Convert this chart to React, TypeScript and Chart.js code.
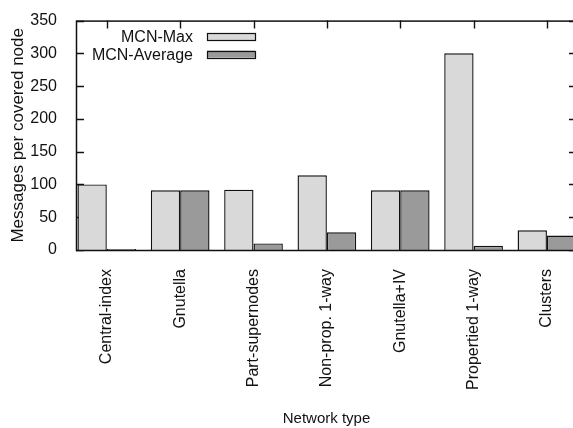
import React, { useEffect, useRef } from "react";
import { Chart, registerables } from "chart.js";

Chart.register(...registerables);

const categories = [
  "Central-index",
  "Gnutella",
  "Part-supernodes",
  "Non-prop. 1-way",
  "Gnutella+IV",
  "Propertied 1-way",
  "Clusters",
];
const mcnMax = [100, 91, 92, 114, 91, 300, 30];
const mcnAverage = [1.5, 91, 10, 27, 91, 6.5, 22];
const yTicks = [0, 50, 100, 150, 200, 250, 300, 350];

const FONT = "'Liberation Sans', Arial, Helvetica, sans-serif";
const INK = "#111111";

// Gnuplot-style frame: inward tick marks under the bars, border on top.
const framePlugin = {
  id: "gnuframe",
  beforeDatasetsDraw(chart: any) {
    const { ctx, chartArea: a, scales } = chart;
    const len = 8;
    ctx.save();
    ctx.strokeStyle = INK;
    ctx.lineWidth = 1.4;
    ctx.beginPath();
    for (const v of yTicks) {
      const y = Math.round(scales.y.getPixelForValue(v)) + 0.5;
      ctx.moveTo(a.left, y);
      ctx.lineTo(a.left + len, y);
      ctx.moveTo(a.right, y);
      ctx.lineTo(a.right - len, y);
    }
    categories.forEach((_, i) => {
      const x = Math.round(scales.x.getPixelForValue(i)) + 0.5;
      ctx.moveTo(x, a.top);
      ctx.lineTo(x, a.top + len);
    });
    ctx.stroke();
    ctx.restore();
  },
  afterDatasetsDraw(chart: any) {
    const { ctx, chartArea: a } = chart;
    ctx.save();
    ctx.strokeStyle = INK;
    ctx.lineWidth = 1.5;
    ctx.strokeRect(a.left + 0.5, a.top + 0.5, a.right - a.left, a.bottom - a.top);
    ctx.restore();
  },
};

// Key in the top-left corner: label text followed by a sample box.
const keyPlugin = {
  id: "gnukey",
  afterDraw(chart: any) {
    const { ctx, chartArea: a } = chart;
    const textRight = a.left + 117;
    const boxLeft = a.left + 131;
    const boxW = 48;
    const boxH = 7;
    ctx.save();
    ctx.font = `16px ${FONT}`;
    ctx.textAlign = "right";
    ctx.textBaseline = "middle";
    chart.data.datasets.forEach((ds: any, i: number) => {
      const y = a.top + 16 + i * 17.5;
      ctx.fillStyle = INK;
      ctx.fillText(ds.label, textRight, y + 1);
      ctx.fillStyle = ds.backgroundColor;
      ctx.fillRect(boxLeft, y - boxH / 2, boxW, boxH);
      ctx.strokeStyle = INK;
      ctx.lineWidth = 1.2;
      ctx.strokeRect(boxLeft + 0.5, Math.round(y - boxH / 2) + 0.5, boxW, boxH);
    });
    ctx.restore();
  },
};

export default function App() {
  const ref = useRef<HTMLCanvasElement | null>(null);

  useEffect(() => {
    if (!ref.current) return;
    const chart = new Chart(ref.current, {
      type: "bar",
      data: {
        datasets: [
          {
            label: "MCN-Max",
            data: mcnMax.map((v, i) => ({ x: i, y: v })),
            backgroundColor: "#d9d9d9",
            borderColor: INK,
            borderWidth: 1.4,
          },
          {
            label: "MCN-Average",
            data: mcnAverage.map((v, i) => ({ x: i, y: v })),
            backgroundColor: "#9a9a9a",
            borderColor: INK,
            borderWidth: 1.4,
          },
        ],
      },
      options: {
        responsive: false,
        animation: false,
        layout: { padding: { top: 16, right: 3, left: 0, bottom: 0 } },
        datasets: { bar: { barPercentage: 1, categoryPercentage: 0.8 } },
        plugins: { legend: { display: false }, tooltip: { enabled: false } },
        scales: {
          x: {
            type: "linear",
            offset: false,
            min: -0.42,
            max: 6.41,
            grid: { display: false, offset: false },
            border: { display: false },
            afterFit(scale: any) {
              scale.height = 178;
            },
            ticks: {
              stepSize: 1,
              includeBounds: false,
              autoSkip: false,
              minRotation: 90,
              maxRotation: 90,
              padding: 11,
              color: INK,
              font: { family: FONT, size: 16 },
              callback: (v: any) => categories[v as number] ?? "",
            },
            title: {
              display: true,
              text: "Network type",
              color: INK,
              font: { family: FONT, size: 15 },
              padding: { top: 0, bottom: 0 },
            },
          },
          y: {
            min: 0,
            max: 350,
            grid: { display: false },
            border: { display: false },
            afterFit(scale: any) {
              scale.width = 76;
            },
            ticks: {
              stepSize: 50,
              padding: 11,
              color: INK,
              font: { family: FONT, size: 16 },
            },
            title: {
              display: true,
              text: "Messages per covered node",
              color: INK,
              font: { family: FONT, size: 17 },
              padding: { top: 8, bottom: 0 },
            },
          },
        },
      },
      plugins: [framePlugin, keyPlugin],
    });
    return () => chart.destroy();
  }, []);

  return (
    <div
      style={{
        position: "fixed",
        left: 0,
        top: 0,
        width: 573,
        height: 428,
        overflow: "hidden",
        background: "#ffffff",
      }}
    >
      <canvas ref={ref} width={580} height={428} style={{ width: 580, height: 428, display: "block" }} />
    </div>
  );
}
